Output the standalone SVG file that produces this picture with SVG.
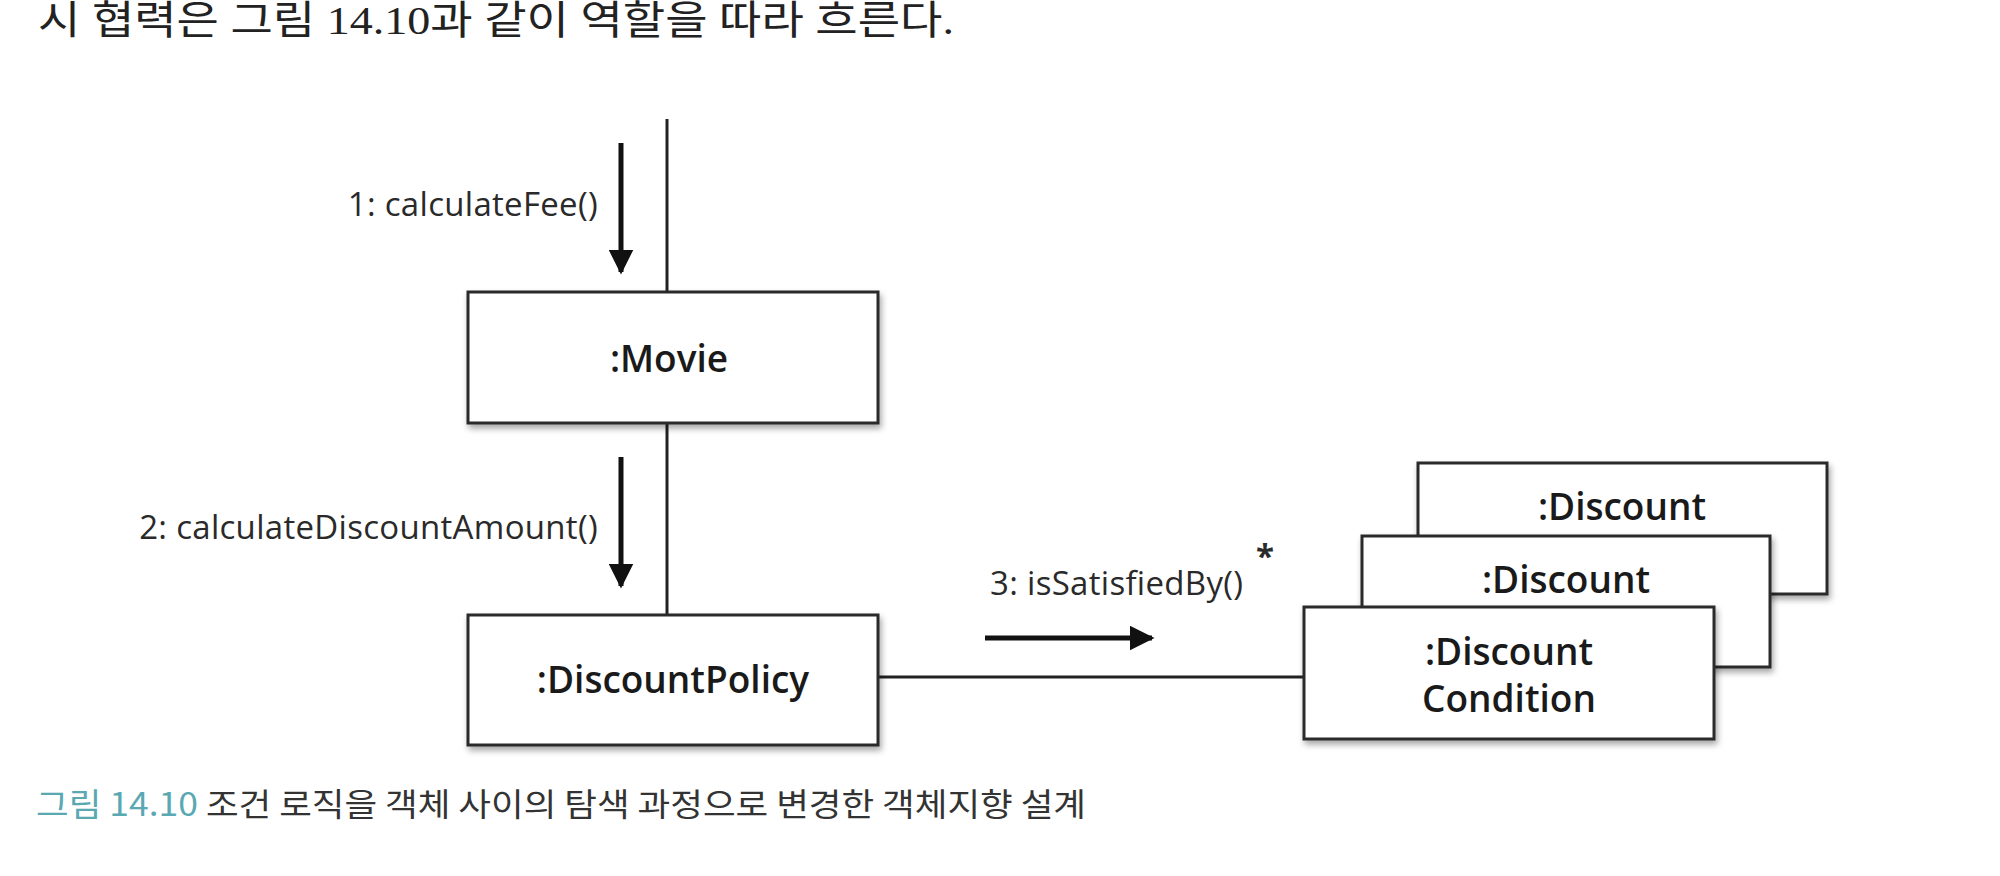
<svg xmlns="http://www.w3.org/2000/svg" width="2000" height="876" viewBox="0 0 2000 876">
<style>
.box{fill:#fff;stroke:#2a2a2a;stroke-width:3;filter:url(#sh)}
.name{font-family:"Open Sans","Noto Sans",sans-serif;font-size:37px;font-weight:600;fill:#1a1a1a;text-anchor:middle}
.lbl{font-family:"Open Sans","Noto Sans",sans-serif;font-size:33px;fill:#2a2a2a;letter-spacing:0.3px}
.link{stroke:#222;stroke-width:3;fill:none}
.msg{stroke:#111;stroke-width:5;fill:none;marker-end:url(#ah)}
</style>
<defs>
<filter id="sh" x="-5%" y="-5%" width="115%" height="125%">
<feDropShadow dx="2" dy="4" stdDeviation="3" flood-color="#000" flood-opacity="0.35"/>
</filter>
<marker id="ah" viewBox="0 0 10 10" refX="9" refY="5" markerWidth="5" markerHeight="5" orient="auto" markerUnits="strokeWidth">
<path d="M0,0 L10,5 L0,10 Z" fill="#111"/>
</marker>
</defs>
<rect width="2000" height="876" fill="#fff"/>
<text x="38" y="34" font-family="'Liberation Serif','Noto Sans CJK KR',serif" font-size="40" fill="#222" textLength="916" lengthAdjust="spacingAndGlyphs">시 협력은 그림 14.10과 같이 역할을 따라 흐른다.</text>
<g id="connectors">
<line class="link" x1="667" y1="119" x2="667" y2="292"/>
<line class="link" x1="667" y1="423" x2="667" y2="615"/>
<line class="link" x1="878" y1="677" x2="1304" y2="677"/>
<line class="msg" x1="621" y1="143" x2="621" y2="272"/>
<line class="msg" x1="621" y1="457" x2="621" y2="586"/>
<line class="msg" x1="985" y1="638" x2="1152" y2="638"/>
<text class="lbl" x="598" y="216" text-anchor="end">1: calculateFee()</text>
<text class="lbl" x="598" y="539" text-anchor="end">2: calculateDiscountAmount()</text>
<text class="lbl" x="990" y="595">3: isSatisfiedBy()</text>
<text class="lbl" x="1256" y="568" font-size="34" font-weight="700">*</text>
</g>
<g id="movie">
<rect class="box" x="468" y="292" width="410" height="131"/>
<text class="name" x="669" y="372">:Movie</text>
</g>
<g id="discountPolicy">
<rect class="box" x="468" y="615" width="410" height="130"/>
<text class="name" x="673" y="693">:DiscountPolicy</text>
</g>
<g id="discount3">
<rect class="box" x="1418" y="463" width="409" height="131"/>
<text class="name" x="1622" y="520">:Discount</text>
</g>
<g id="discount2">
<rect class="box" x="1362" y="536" width="408" height="131"/>
<text class="name" x="1566" y="593">:Discount</text>
</g>
<g id="discountCondition">
<rect class="box" x="1304" y="607" width="410" height="132"/>
<text class="name" x="1509" y="665">:Discount</text>
<text class="name" x="1509" y="712">Condition</text>
</g>
<text x="36" y="816" font-family="'Noto Sans CJK KR',sans-serif" font-size="32" fill="#333" textLength="1050" lengthAdjust="spacingAndGlyphs"><tspan fill="#5aa8b2">그림 14.10</tspan> 조건 로직을 객체 사이의 탐색 과정으로 변경한 객체지향 설계</text>
</svg>
